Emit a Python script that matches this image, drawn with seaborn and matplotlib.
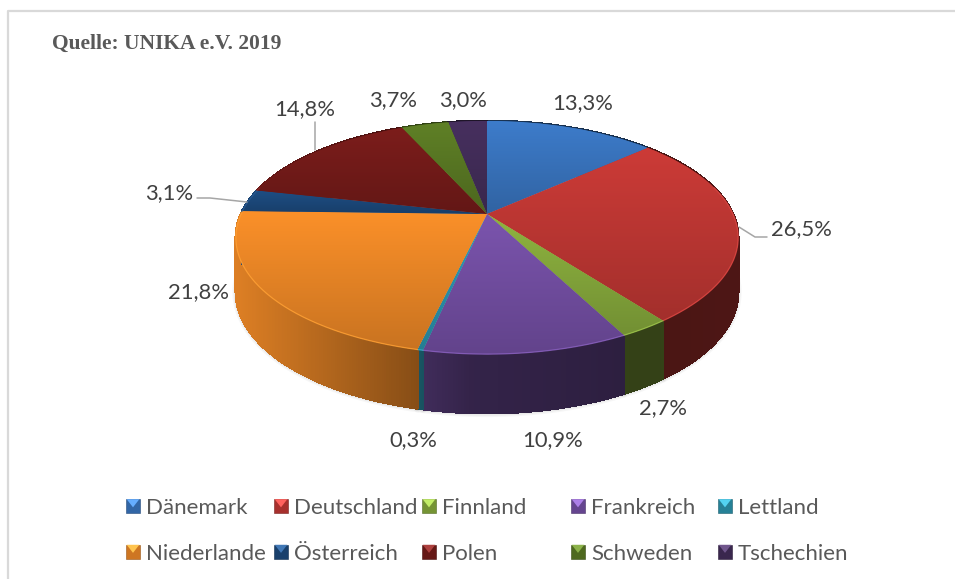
import numpy as np
import matplotlib
matplotlib.use("Agg")
import matplotlib.pyplot as plt
import seaborn as sns
from matplotlib.collections import PolyCollection
from matplotlib.colors import to_rgb
from matplotlib.legend_handler import HandlerBase
from matplotlib.patches import Patch, Polygon, Rectangle
from matplotlib.transforms import Transform

countries = ["Dänemark", "Deutschland", "Finnland", "Frankreich", "Lettland",
             "Niederlande", "Österreich", "Polen", "Schweden", "Tschechien"]
shares = [13.3, 26.5, 2.7, 10.9, 0.3, 21.8, 3.1, 14.8, 3.7, 3.0]
share_labels = ["13,3%", "26,5%", "2,7%", "10,9%", "0,3%",
                "21,8%", "3,1%", "14,8%", "3,7%", "3,0%"]
slice_hex = ["#3D7CCB", "#CC3B37", "#8FB440", "#7B54AE", "#2E9DB8",
             "#FB9029", "#1E4E84", "#7C1D1B", "#5F8026", "#47305F"]
label_pos = [(583, 103), (801, 229), (663, 408), (553, 440), (413, 440),
             (198, 292), (169, 193), (305, 109), (393, 100), (463, 100)]
source_text = "Quelle: UNIKA e.V. 2019"

sns.set_theme(style="white")
plt.rcParams["font.family"] = ["Lato", "DejaVu Sans"]
palette = sns.color_palette(slice_hex)

CX, CY, A, B, K = 487.0, 214.0, 246.0, 111.8, 0.202


class Perspective(Transform):
    input_dims = output_dims = 2
    is_separable = False
    has_inverse = False

    def transform_non_affine(self, values):
        values = np.asarray(values, dtype=float)
        w = 1 + K * values[:, 1]
        return np.column_stack((CX + A * values[:, 0] / w,
                                CY - B * values[:, 1] / w))


persp = Perspective()


def rim(theta):
    """Pixel position of the top rim and of the lower edge for angles from 12 o'clock."""
    pts = persp.transform_non_affine(np.column_stack((np.sin(theta), np.cos(theta))))
    depth = 53 - 6 * np.cos(theta)
    return pts, pts + np.column_stack((np.zeros_like(depth), depth))


fig = plt.figure(figsize=(9.55, 5.79), dpi=100, facecolor="white")
ax = fig.add_axes([0, 0, 1, 1])

wedges, _ = ax.pie(shares, colors=palette, startangle=90, counterclock=False,
                   radius=1, center=(0, 0), wedgeprops=dict(linewidth=0, zorder=3))

edges = np.concatenate(([0], np.cumsum(shares))) / np.sum(shares) * 2 * np.pi

# side wall: lighting follows the horizontal position on the page
for i, col in enumerate(palette):
    steps = max(2, int((edges[i + 1] - edges[i]) / np.radians(0.5)) + 1)
    th = np.linspace(edges[i], edges[i + 1], steps + 1)
    top, low = rim(th)
    quads, cols = [], []
    for j in range(steps):
        quads.append([top[j], top[j + 1], low[j + 1], low[j]])
        mx = 0.5 * (top[j, 0] + top[j + 1, 0])
        shade = np.interp(mx, [235, 300, 410, 470, 640, 738],
                          [0.88, 0.76, 0.55, 0.42, 0.36, 0.38])
        cols.append(np.array(col) * shade)
    ax.add_collection(PolyCollection(quads, facecolors=cols, edgecolors=cols,
                                     linewidths=1.2, antialiaseds=False, zorder=2))
    front = th[np.cos(th) < 0.25]
    if len(front) > 1:
        _, lo = rim(front)
        for lw, alpha in ((5, 0.05), (3, 0.08)):
            ax.plot(lo[:, 0], lo[:, 1] + 0.5, color="#606060", lw=lw, alpha=alpha,
                    zorder=1, solid_capstyle="round")
        tp, _ = rim(front)
        light = tuple(min(1, c * 1.05 + 0.04) for c in col)
        ax.plot(tp[:, 0], tp[:, 1], color=light, lw=0.9, zorder=5, alpha=0.8)

# top faces: vertical gradient inside every pie wedge
for wedge, col in zip(wedges, palette):
    wedge.set_transform(persp + ax.transData)
    verts = persp.transform_non_affine(wedge.get_path().vertices)
    x0, x1 = verts[:, 0].min(), verts[:, 0].max()
    y0, y1 = verts[:, 1].min(), verts[:, 1].max()
    ramp = np.linspace(1.0, 0.8, 64)[:, None, None] * np.array(col)[None, None, :]
    im = ax.imshow(np.repeat(ramp, 2, axis=1), extent=(x0, x1, y1, y0), aspect="auto",
                   interpolation="bilinear", zorder=4)
    im.set_clip_path(wedge)

for text, (x, y) in zip(share_labels, label_pos):
    ax.text(x, y, text, ha="center", va="center", fontsize=15.8, color="#404040", zorder=6)

# leader lines
for xs, ys in (([197, 210, 247], [198, 198, 202]),
               ([315, 315], [122, 150]),
               ([739, 755, 767], [227, 237, 237])):
    ax.plot(xs, ys, color="#A6A6A6", lw=1.1, zorder=6)

# frame of the chart area
ax.plot([8, 8, 955], [579, 11, 11], color="#D9D9D9", lw=1.6, zorder=0)
ax.text(52, 44, source_text, family="Liberation Serif", weight="bold", fontsize=15.5,
        color="#595959", ha="left", va="center")


class BevelHandler(HandlerBase):
    def create_artists(self, legend, orig, xd, yd, width, height, fontsize, trans):
        base = np.array(to_rgb(orig.get_facecolor()))
        s = 14 * 0.72
        y = (height - s) / 2 - yd
        square = Rectangle((0, y), s, s, facecolor=base * 0.82, edgecolor=base * 0.6,
                           linewidth=0.4, transform=trans)
        tip = Polygon([(0.5, y + s), (s - 0.5, y + s), (s / 2, y + s * 0.42)], closed=True,
                      facecolor=np.minimum(1, base * 1.15 + 0.12), linewidth=0, transform=trans)
        return [square, tip]


legend_cols = [126, 274, 422, 571, 718]
legends = []
for c, x in enumerate(legend_cols):
    handles = [Patch(facecolor=palette[c]), Patch(facecolor=palette[c + 5])]
    leg = ax.legend(handles, [countries[c], countries[c + 5]], loc="upper left",
                    bbox_to_anchor=(x, 498), bbox_transform=ax.transData,
                    borderpad=0, borderaxespad=0, frameon=False, fontsize=16,
                    labelcolor="#595959", handlelength=0.63, handleheight=0.7,
                    handletextpad=0.27, labelspacing=1.15,
                    handler_map={Patch: BevelHandler()})
    legends.append(leg)
for leg in legends[:-1]:
    ax.add_artist(leg)

ax.set_aspect("auto")
ax.set_xlim(0, 955)
ax.set_ylim(579, 0)
ax.axis("off")
fig.savefig("out.png", dpi=100, facecolor="white")
